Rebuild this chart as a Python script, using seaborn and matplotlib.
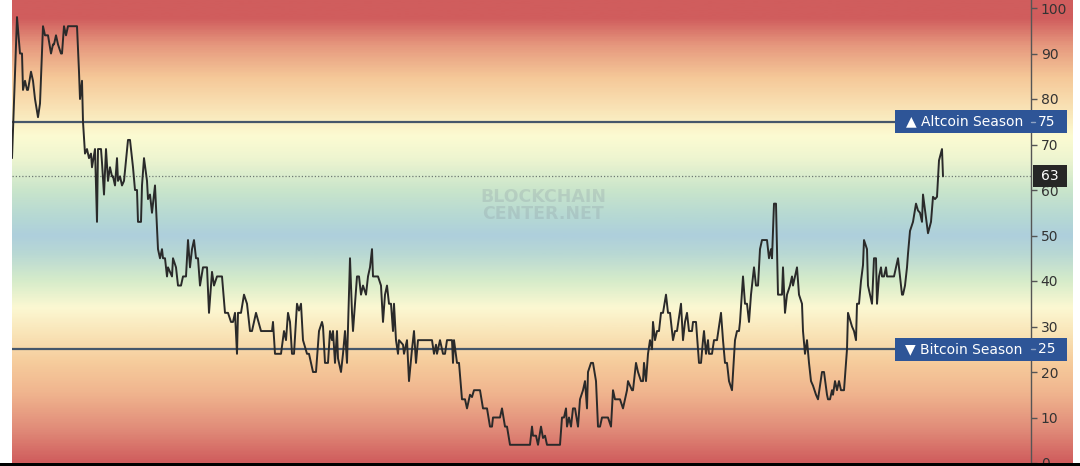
import matplotlib
matplotlib.use("Agg")
import matplotlib.pyplot as plt
import matplotlib.transforms as mtransforms
from matplotlib.colors import LinearSegmentedColormap
from matplotlib.patches import Rectangle
from matplotlib.lines import Line2D
import numpy as np
import pandas as pd
import seaborn as sns

# Altcoin season index (day offset from first point, index value)
days = [0, 5, 8, 10, 11, 13, 15, 16, 19, 21, 23, 26, 28, 31, 33, 36, 39, 41, 42, 44, 46, 49, 50,
        52, 54, 56, 65, 67, 68, 70, 71, 73, 75, 77, 79, 80, 83, 85, 86, 89, 90, 92, 94, 96, 98,
        100, 101, 103, 105, 106, 108, 110, 112, 116, 118, 121, 123, 125, 126, 129, 130, 132, 135,
        136, 138, 140, 141, 143, 146, 148, 150, 151, 153, 155, 156, 158, 160, 161, 164, 166, 169,
        171, 174, 176, 178, 180, 182, 184, 186, 188, 191, 195, 197, 200, 202, 205, 210, 213, 216,
        219, 221, 223, 225, 226, 229, 232, 235, 238, 240, 244, 249, 260, 261, 263, 269, 272, 274,
        276, 278, 280, 282, 285, 287, 289, 291, 295, 297, 301, 304, 307, 310, 311, 313, 316, 318,
        320, 321, 323, 325, 326, 329, 331, 333, 335, 338, 340, 341, 345, 347, 349, 351, 354, 356,
        358, 360, 361, 366, 369, 371, 373, 375, 377, 379, 381, 382, 384, 386, 387, 391, 392, 395,
        397, 400, 402, 404, 406, 420, 422, 424, 425, 428, 431, 433, 435, 440, 441, 442, 445, 447,
        450, 453, 455, 458, 460, 462, 468, 471, 475, 478, 480, 481, 488, 490, 493, 495, 498, 518,
        520, 521, 524, 526, 529, 531, 533, 535, 548, 550, 552, 554, 555, 557, 559, 561, 563, 566,
        568, 571, 573, 575, 576, 579, 581, 584, 586, 588, 590, 596, 599, 601, 603, 608, 611, 613,
        615, 616, 620, 621, 624, 626, 629, 631, 632, 634, 636, 638, 640, 641, 643, 645, 647, 649,
        651, 654, 656, 658, 661, 663, 665, 669, 671, 673, 675, 677, 680, 681, 684, 687, 689, 691,
        692, 694, 696, 697, 700, 702, 705, 709, 711, 713, 715, 717, 720, 723, 725, 727, 728, 731,
        733, 735, 737, 739, 742, 744, 746, 748, 750, 755, 757, 759, 760, 762, 764, 766, 770, 771,
        773, 775, 778, 780, 781, 785, 787, 790, 791, 793, 795, 797, 799, 801, 804, 806, 810, 812,
        815, 816, 818, 820, 821, 823, 825, 827, 829, 832, 835, 836, 840, 842, 844, 845, 847, 849,
        851, 852, 855, 856, 858, 860, 862, 864, 865, 867, 869, 870, 872, 874, 875, 882, 884, 886,
        888, 890, 891, 893, 895, 896, 898, 901, 904, 906, 908, 910, 911, 914, 916, 919, 921, 923,
        925, 927, 930, 931]
values = [67, 98, 90, 90, 82, 84, 82, 82, 86, 84, 80, 76, 79, 96, 94, 94, 90, 92, 92, 94, 92, 90, 90,
          96, 94, 96, 96, 86, 80, 84, 75, 68, 69, 67, 68, 65, 69, 53, 69, 69, 66, 59, 69, 62, 65,
          63, 63, 61, 67, 62, 63, 61, 62, 71, 71, 65, 60, 60, 53, 53, 61, 67, 62, 58, 59, 55, 57,
          61, 47, 45, 47, 45, 45, 41, 43, 42, 41, 45, 43, 39, 39, 41, 41, 49, 43, 47, 49, 45, 45,
          39, 43, 43, 33, 42, 39, 41, 41, 33, 33, 31, 31, 33, 24, 33, 33, 37, 35, 29, 29, 33, 29,
          29, 31, 24, 24, 29, 27, 33, 31, 24, 24, 35, 33.5, 35, 27, 24, 24, 20, 20, 29, 31, 30,
          22, 22, 29, 27, 29, 22, 29, 23, 20, 24, 29, 22, 45, 33, 29, 41, 41, 37, 39, 37, 41, 43,
          47, 41, 41, 39, 31, 37, 39, 35, 35, 29, 35, 27, 24, 27, 26, 24, 27, 18, 25, 29, 22, 27,
          27, 24, 26, 24, 27, 24, 24, 27, 27, 22, 27, 22, 22, 14, 14, 12, 15, 14.5, 16, 16, 12, 12,
          8, 8, 10, 10, 12, 8, 8, 4, 4, 8, 6, 6, 4, 8, 5.5, 6, 4, 4, 10, 10, 12, 8, 10, 8, 12, 12,
          8, 14, 16, 18, 12, 20, 22, 22, 18, 8, 8, 10, 10, 8, 16, 14, 14, 12, 14, 16, 18, 16, 16,
          22, 20, 18, 18, 22, 18, 24, 27, 25, 31, 27, 29, 29, 33, 33, 37, 33, 33, 27, 29, 29, 35,
          27, 31, 33, 29, 29, 31, 31, 22, 22, 27, 29, 24, 27, 24, 24, 27, 27, 33, 27, 22, 22, 18,
          16, 27, 29, 29, 31, 41, 35, 35, 31, 37, 43, 39, 39, 47, 49, 49, 45, 47, 45, 57, 57, 37,
          37, 43, 33, 37, 39, 41, 39, 43, 37, 35, 29, 24, 27, 22, 18, 17, 15, 14, 20, 20, 15, 14,
          14, 16, 15, 18, 16, 18, 16, 16, 25, 33, 30, 29, 27, 35, 35, 40, 43.5, 49, 47, 39, 37,
          35, 45, 45, 35, 41, 43, 41, 41, 43, 41, 41, 43, 45, 41, 37, 37, 39, 43, 46, 51, 53, 57,
          55.5, 55, 53, 59, 54, 50.5, 53, 58.5, 58, 58.5, 66.5, 69, 63]

season_levels = [75, 25]
season_labels = ["\u25B2 Altcoin Season", "\u25BC Bitcoin Season"]
current_value = 63
y_ticks = [0, 10, 20, 30, 40, 50, 60, 70, 80, 90, 100]

# background colour stops (index value, colour)
bg_stops = [(0, "#d05d5d"), (7, "#e08a78"), (15, "#f0b48e"), (22, "#f6cc9c"), (28, "#f9e3b6"),
            (34, "#fcf8d2"), (40, "#d6ecca"), (46, "#b8d8d4"), (50, "#aecfdc"), (54, "#b5d8d4"),
            (60, "#c9e5cb"), (67, "#eef5d0"), (72, "#fcfbd2"), (78, "#f9e3b6"), (85, "#f5c898"),
            (92, "#e6987e"), (98, "#d05d5d"), (102, "#d05d5d")]

df = pd.DataFrame({"day": days, "index": values})

sns.set_theme(style="white")
plt.rcParams["font.family"] = ["DejaVu Sans"]

W, H = 1080, 466
fig = plt.figure(figsize=(W / 100, H / 100), dpi=100)
fig.patch.set_facecolor("white")

ymax = 463 / 4.55
left = 12 / W
bottom = 3 / H
height = 463 / H

# gradient background, also behind the tick labels
bg = fig.add_axes([left, bottom, 1061 / W, height])
cmap = LinearSegmentedColormap.from_list(
    "season", [(v / bg_stops[-1][0], c) for v, c in bg_stops])
grad = np.linspace(0, ymax, 600).reshape(-1, 1)
bg.imshow(grad / bg_stops[-1][0], aspect="auto", cmap=cmap, vmin=0, vmax=1,
          extent=[0, 1, 0, ymax], origin="lower")
bg.set_xlim(0, 1)
bg.set_ylim(0, ymax)
bg.axis("off")

ax = fig.add_axes([left, bottom, 1019 / W, height])
ax.set_facecolor("none")

for lvl in season_levels:
    ax.axhline(lvl, color="#46566a", lw=1.6, zorder=2)
ax.axhline(current_value, color="#6f7a74", lw=0.9, ls=(0, (1, 1.6)), zorder=2)

sns.lineplot(data=df, x="day", y="index", ax=ax, color="#2a2a2a", lw=1.4, zorder=3)

tr = mtransforms.blended_transform_factory(ax.transAxes, ax.transData)
ax.text(0.521, 56.6, "BLOCKCHAIN\nCENTER.NET", transform=tr,
        ha="center", va="center", fontsize=12.5, fontweight="bold", color="#8c9aa2",
        alpha=0.28, linespacing=0.95, zorder=1)

ax.set_xlim(0, 1019)
ax.set_ylim(0, ymax)
ax.set_xlabel("")
ax.set_ylabel("")
ax.set_xticks([])
ax.yaxis.tick_right()
ax.set_yticks(y_ticks)
ax.tick_params(axis="y", direction="out", length=4, width=1, color="#555555",
               labelcolor="#333333", labelsize=10, pad=3, right=True, left=False)
for s in ["top", "left", "bottom"]:
    ax.spines[s].set_visible(False)
ax.spines["right"].set_color("#555555")
ax.spines["right"].set_linewidth(1)

box_x0 = (895 - 12) / 1019
box_x1 = (1067 - 12) / 1019
for lvl, lab in zip(season_levels, season_labels):
    ax.add_patch(Rectangle((box_x0, lvl - 2.5), box_x1 - box_x0, 5.0, transform=tr,
                           facecolor="#2e5597", edgecolor="none", clip_on=False, zorder=6))
    ax.text(0.992, lvl, lab, transform=tr, ha="right", va="center", fontsize=10,
            color="white", clip_on=False, zorder=7)
    ax.text(1.0065, lvl, str(lvl), transform=tr, ha="left", va="center", fontsize=10,
            color="white", clip_on=False, zorder=7)
    ax.add_line(Line2D([1.0, 1.004], [lvl, lvl], transform=tr, color="#8fa3c4", lw=1,
                       clip_on=False, zorder=7))

ax.add_patch(Rectangle(((1033 - 12) / 1019, current_value - 2.4), 34 / 1019, 4.8, transform=tr,
                       facecolor="#262626", edgecolor="none", clip_on=False, zorder=6))
ax.text((1050 - 12) / 1019, current_value, str(current_value), transform=tr, ha="center",
        va="center", fontsize=10, color="white", clip_on=False, zorder=7)

# dark strip along the bottom of the screenshot
fig.patches.append(Rectangle((0, 0), 1, 3 / H, transform=fig.transFigure,
                             facecolor="black", edgecolor="none", zorder=10))

fig.savefig("out.png", dpi=100)
